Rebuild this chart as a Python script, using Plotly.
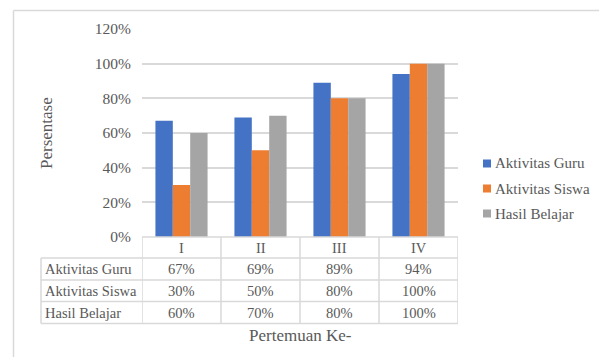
import plotly.graph_objects as go

# Data
categories = ["I", "II", "III", "IV"]
series_names = ["Aktivitas Guru", "Aktivitas Siswa", "Hasil Belajar"]
aktivitas_guru = [0.67, 0.69, 0.89, 0.94]
aktivitas_siswa = [0.30, 0.50, 0.80, 1.00]
hasil_belajar = [0.60, 0.70, 0.80, 1.00]
series_values = [aktivitas_guru, aktivitas_siswa, hasil_belajar]
colors = ["#4472C4", "#ED7D31", "#A5A5A5"]
y_ticks = [0, 0.2, 0.4, 0.6, 0.8, 1.0, 1.2]
x_title = "Pertemuan Ke-"
y_title = "Persentase"

W, H = 599, 357
FONT = "Liberation Serif, Times New Roman, serif"
TEXT = "#595959"
LINE = "#D9D9D9"


def px_x(p):
    return p / W


def px_y(p):
    return 1 - p / H


fig = go.Figure()
for name, vals, col in zip(series_names, series_values, colors):
    fig.add_trace(go.Bar(
        x=categories, y=vals, name=name,
        marker=dict(color=col, line=dict(width=0)),
        showlegend=False, hoverinfo="skip",
    ))

shapes = []
annotations = []

# outer chart frame (top and left edges; the rest runs past the page)
shapes.append(dict(type="line", xref="paper", yref="paper",
                   x0=px_x(13.5), x1=1, y0=px_y(10.5), y1=px_y(10.5),
                   line=dict(color=LINE, width=1.5)))
shapes.append(dict(type="line", xref="paper", yref="paper",
                   x0=px_x(13.5), x1=px_x(13.5), y0=px_y(10.5), y1=0,
                   line=dict(color=LINE, width=1.5)))

# data table grid
header_top, header_bot = 237, 258
row_edges = [258, 280, 301.5, 323.5]
label_left = 41
n = len(categories)

# header row top line (category columns only)
shapes.append(dict(type="line", xref="x", yref="paper",
                   x0=-0.5, x1=n - 0.5, y0=px_y(header_top), y1=px_y(header_top),
                   line=dict(color=LINE, width=1.5)))
# horizontal lines spanning the label column too
for ry in row_edges:
    shapes.append(dict(type="line", xref="paper", yref="paper",
                       x0=px_x(label_left), x1=px_x(458), y0=px_y(ry), y1=px_y(ry),
                       line=dict(color=LINE, width=1.5)))
# vertical lines at category boundaries
for i in range(n + 1):
    shapes.append(dict(type="line", xref="x", yref="paper",
                       x0=i - 0.5, x1=i - 0.5, y0=px_y(header_top), y1=px_y(row_edges[-1]),
                       line=dict(color=LINE, width=1.5)))
# label column left edge
shapes.append(dict(type="line", xref="paper", yref="paper",
                   x0=px_x(label_left), x1=px_x(label_left),
                   y0=px_y(row_edges[0]), y1=px_y(row_edges[-1]),
                   line=dict(color=LINE, width=1.5)))

cell_font = dict(family=FONT, size=14.5, color=TEXT)
legend_font = dict(family=FONT, size=15, color=TEXT)

# header cells
for c in categories:
    annotations.append(dict(x=c, xref="x", y=px_y((header_top + header_bot) / 2), yref="paper",
                            text=c, showarrow=False, font=cell_font,
                            xanchor="center", yanchor="middle"))
# value rows
for r, (name, vals) in enumerate(zip(series_names, series_values)):
    yc = px_y((row_edges[r] + row_edges[r + 1]) / 2)
    annotations.append(dict(x=px_x(43), xref="paper", y=yc, yref="paper",
                            text=name, showarrow=False, font=cell_font,
                            xanchor="left", yanchor="middle"))
    for c, v in zip(categories, vals):
        annotations.append(dict(x=c, xref="x", y=yc, yref="paper",
                                text=f"{round(v * 100)}%", showarrow=False, font=cell_font,
                                xanchor="center", yanchor="middle"))

# legend
for k, (name, col) in enumerate(zip(series_names, colors)):
    yc = 163.5 + 25 * k
    shapes.append(dict(type="rect", xref="paper", yref="paper",
                       x0=px_x(483), x1=px_x(491), y0=px_y(yc - 4), y1=px_y(yc + 4),
                       fillcolor=col, line=dict(width=0)))
    annotations.append(dict(x=px_x(493), xref="paper", y=px_y(yc), yref="paper",
                            text=name, showarrow=False, font=legend_font,
                            xanchor="left", yanchor="middle"))

# axis titles
annotations.append(dict(x=px_x(300), xref="paper", y=px_y(335), yref="paper",
                        text=x_title, showarrow=False,
                        font=dict(family=FONT, size=17, color=TEXT),
                        xanchor="center", yanchor="middle"))
annotations.append(dict(x=px_x(46), xref="paper", y=px_y(133), yref="paper",
                        text=y_title, showarrow=False, textangle=-90,
                        font=dict(family=FONT, size=17, color=TEXT),
                        xanchor="center", yanchor="middle"))

fig.update_layout(
    width=W, height=H, autosize=False,
    margin=dict(l=0, r=0, t=0, b=0, autoexpand=False),
    paper_bgcolor="white", plot_bgcolor="white",
    barmode="group", bargap=0.34, bargroupgap=0,
    xaxis=dict(domain=[px_x(142), px_x(458)], range=[-0.5, n - 0.5],
               showticklabels=False, showgrid=False, zeroline=False, showline=False,
               automargin=False, fixedrange=True),
    yaxis=dict(domain=[px_y(237), px_y(29)], range=[0, 1.2],
               tickvals=y_ticks, tickformat=".0%",
               tickfont=dict(family=FONT, size=15.5, color=TEXT),
               ticklabelstandoff=10, automargin=False,
               showgrid=True, gridcolor=LINE, gridwidth=1.5,
               zeroline=False, showline=False, ticks="", fixedrange=True),
    shapes=shapes,
    annotations=annotations,
    showlegend=False,
)

fig.write_html("out.html")
